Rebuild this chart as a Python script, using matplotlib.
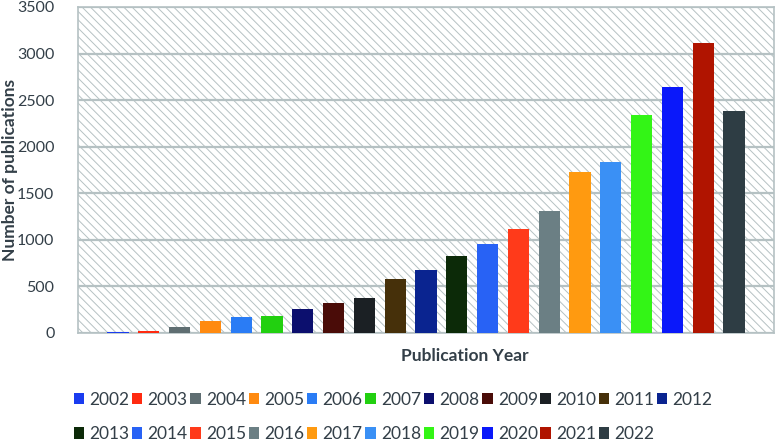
import numpy as np
import matplotlib
matplotlib.use('Agg')
import matplotlib.pyplot as plt
from matplotlib.patches import Rectangle, Patch

years = [str(y) for y in range(2002, 2023)]
publications = [15, 25, 65, 125, 168, 180, 254, 325, 372, 580, 676,
                830, 955, 1120, 1306, 1728, 1836, 2340, 2638, 3117, 2387]
bar_colors = ['#1a3cf0', '#ff2a10', '#5f6e72', '#ff8a10', '#2a7cf5', '#22d010',
              '#0c0f6e', '#4a0c08', '#1b2024', '#46300a', '#0a2490', '#0c2a08',
              '#2862f5', '#ff3a1a', '#6b7f84', '#ff9a10', '#3a90f5', '#33f516',
              '#0a18fa', '#b01400', '#2e3d44']
y_ticks = [0, 500, 1000, 1500, 2000, 2500, 3000, 3500]

text_color = '#333f48'
grid_color = '#b5c1c3'

plt.rcParams['font.family'] = ['Lato', 'DejaVu Sans']
plt.rcParams['hatch.linewidth'] = 0.7

fig = plt.figure(figsize=(7.76, 4.43), dpi=100)
ax = fig.add_axes([78 / 776, 110 / 443, 696 / 776, 326 / 443])

# hatched plot background
ax.set_facecolor('white')
ax.add_patch(Rectangle((0, 0), 1, 1, transform=ax.transAxes, facecolor='white',
                       edgecolor=grid_color, hatch='\\\\\\\\', lw=0, zorder=0))

x = np.arange(len(years))
ax.bar(x, publications, width=0.69, color=bar_colors, zorder=3)

ax.set_xlim(-1.3, len(years) - 1 + 1.3)
ax.set_ylim(0, 3500)
ax.set_yticks(y_ticks)
ax.set_yticklabels([str(t) for t in y_ticks], fontsize=11.5, color=text_color)
ax.set_xticks([])
ax.tick_params(axis='y', length=0, pad=17)
ax.yaxis.grid(True, color=grid_color, lw=1.6, zorder=1)
ax.set_axisbelow(True)
for s in ax.spines.values():
    s.set_color(grid_color)
    s.set_linewidth(1.2)

ax.set_ylabel('Number of publications', fontsize=12.5, fontweight='bold',
              color=text_color, va='center')
ax.yaxis.set_label_coords(-68 / 696, 0.5)
fig.text(465 / 776, 87 / 443, 'Publication Year', fontsize=12.5, fontweight='bold',
         color=text_color, ha='center', va='center')

# legend laid out row by row
handles = [Patch(facecolor=c, edgecolor='none') for c in bar_colors]
ncol = 11
order = []
for j in range(ncol):
    order.append(j)
    if j + ncol < len(years):
        order.append(j + ncol)
fig.legend([handles[i] for i in order], [years[i] for i in order], ncol=ncol,
           loc='center left', bbox_to_anchor=(58 / 776, 26 / 443), frameon=False,
           fontsize=12.5, labelcolor=text_color, handlelength=0.6, handleheight=0.6,
           handletextpad=0.3, columnspacing=0.15, labelspacing=1.05)

fig.savefig('out.png', dpi=100)
